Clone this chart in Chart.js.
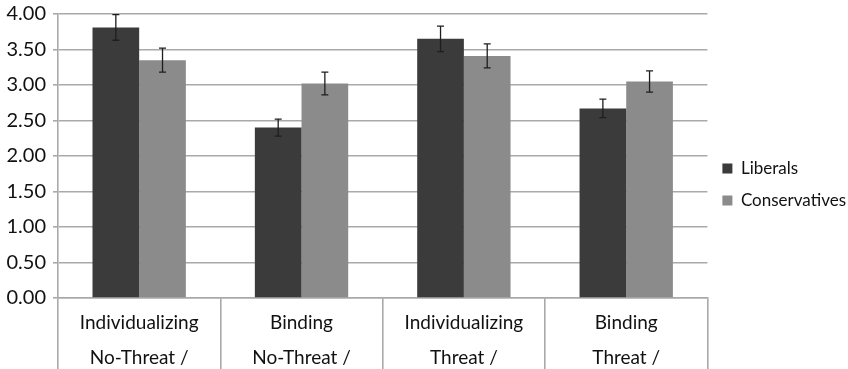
<!DOCTYPE html>
<html>
<head>
<meta charset="utf-8">
<script src="https://cdn.jsdelivr.net/npm/chart.js@4/dist/chart.umd.min.js"></script>
<style>
  html, body { margin: 0; padding: 0; background: #ffffff; }
  #wrap { width: 848px; height: 369px; position: relative; }
</style>
</head>
<body>
<div id="wrap"><canvas id="c" width="848" height="369"></canvas></div>
<script>
// Category labels: foundation type over threat condition
const categories = [
  ["Individualizing", "No-Threat /"],
  ["Binding", "No-Threat /"],
  ["Individualizing", "Threat /"],
  ["Binding", "Threat /"]
];
const seriesNames = ["Liberals", "Conservatives"];
const liberals = [3.81, 2.40, 3.65, 2.67];
const conservatives = [3.35, 3.02, 3.41, 3.05];
const liberalsErr = [0.18, 0.12, 0.18, 0.13];
const conservativesErr = [0.17, 0.16, 0.17, 0.15];
const yTicks = [0, 0.5, 1, 1.5, 2, 2.5, 3, 3.5, 4];

const FONT = "Lato, 'Open Sans', sans-serif";
const GRID = "#a9a9a9";
const TEXT = "#111111";

// Draws +/- error whiskers on top of each bar
const errorBars = {
  id: "errorBars",
  afterDatasetsDraw(chart) {
    const ctx = chart.ctx;
    const y = chart.scales.y;
    ctx.save();
    ctx.strokeStyle = "#1e1e1e";
    ctx.lineWidth = 1.3;
    chart.data.datasets.forEach((ds, di) => {
      const meta = chart.getDatasetMeta(di);
      meta.data.forEach((bar, i) => {
        const v = ds.data[i];
        const e = ds.errors[i];
        const top = y.getPixelForValue(v + e);
        const bot = y.getPixelForValue(v - e);
        const x = bar.x;
        const cap = 3.5;
        ctx.beginPath();
        ctx.moveTo(x, top); ctx.lineTo(x, bot);
        ctx.moveTo(x - cap, top); ctx.lineTo(x + cap, top);
        ctx.moveTo(x - cap, bot); ctx.lineTo(x + cap, bot);
        ctx.stroke();
      });
    });
    ctx.restore();
  }
};

new Chart(document.getElementById("c"), {
  type: "bar",
  data: {
    labels: categories,
    datasets: [
      { label: seriesNames[0], data: liberals, errors: liberalsErr, backgroundColor: "#3b3b3b" },
      { label: seriesNames[1], data: conservatives, errors: conservativesErr, backgroundColor: "#8b8b8b" }
    ]
  },
  options: {
    responsive: false,
    animation: false,
    events: [],
    datasets: { bar: { categoryPercentage: 0.575, barPercentage: 1.0 } },
    // the legend's built-in right margin is pulled back so the text runs to the edge
    layout: { padding: { top: 0, left: 0, bottom: 0, right: -8 } },
    plugins: {
      tooltip: { enabled: false },
      legend: {
        position: "right",
        align: "center",
        labels: {
          boxWidth: 10,
          boxHeight: 10,
          padding: 15,
          color: TEXT,
          font: { family: FONT, size: 17 }
        }
      }
    },
    scales: {
      x: {
        grid: { offset: true, drawOnChartArea: false, tickLength: 71, color: GRID, lineWidth: 1.6 },
        border: { display: true, color: GRID, width: 1.6 },
        ticks: {
          maxRotation: 0,
          autoSkip: false,
          padding: -63.5,
          color: TEXT,
          font: { family: FONT, size: 19, lineHeight: 1.84 }
        },
        afterFit(scale) {
          scale.height = 71;
          scale.paddingLeft = 0;
          scale.paddingRight = 0;
        }
      },
      y: {
        min: 0,
        max: 4,
        afterBuildTicks(scale) {
          scale.ticks = yTicks.map(v => ({ value: v }));
        },
        grid: { color: GRID, lineWidth: 1.6, tickLength: 5 },
        border: { display: true, color: GRID, width: 1.6 },
        ticks: {
          padding: 7,
          color: TEXT,
          font: { family: FONT, size: 20 },
          callback: v => Number(v).toFixed(2)
        },
        afterFit(scale) {
          scale.width = 58;
          scale.paddingTop = 14;
          scale.paddingBottom = 0;
        }
      }
    }
  },
  plugins: [errorBars]
});
</script>
</body>
</html>
